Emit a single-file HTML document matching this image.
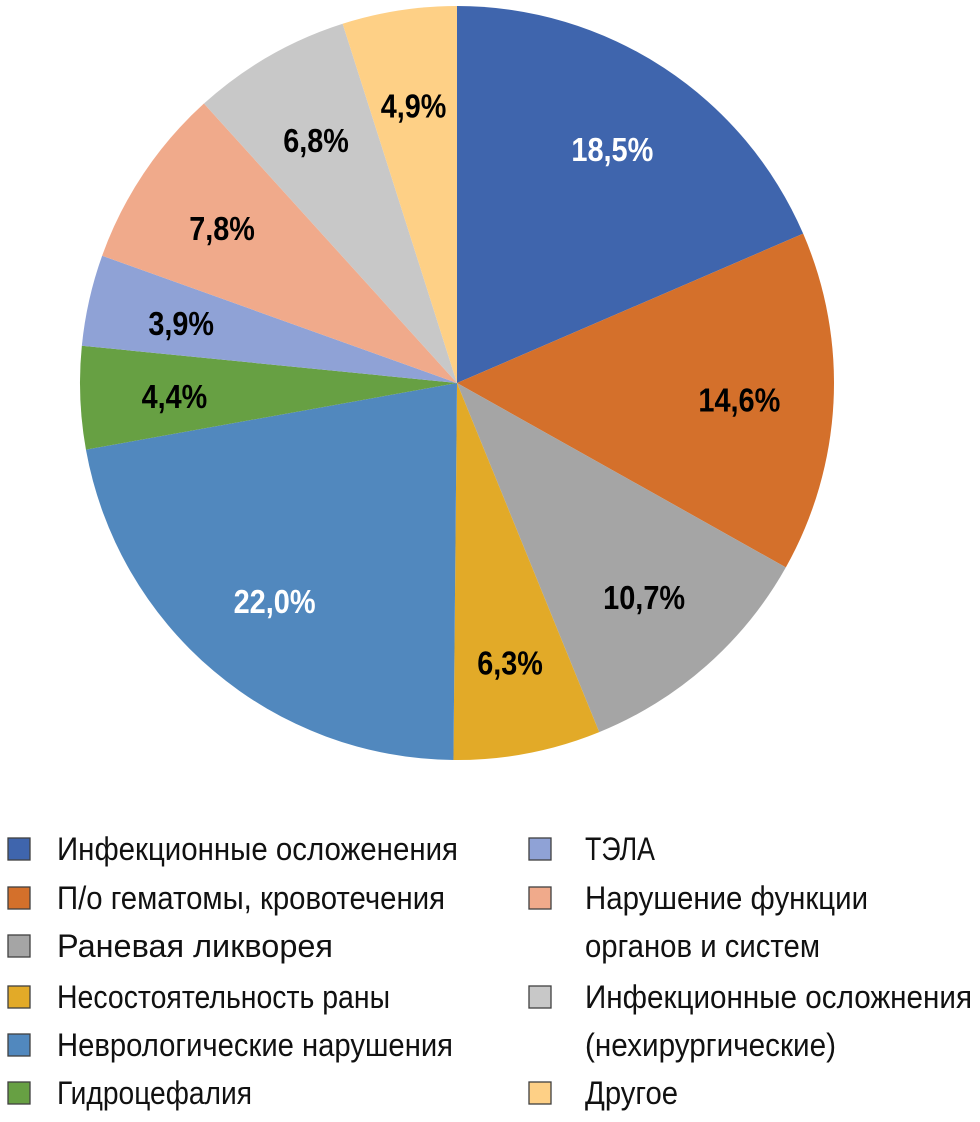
<!DOCTYPE html>
<html><head><meta charset="utf-8"><style>
html,body{margin:0;padding:0;background:#fff;}
svg{display:block;}
text{font-family:"Liberation Sans",sans-serif;}
</style></head><body>
<svg id="chart" width="980" height="1122" viewBox="0 0 980 1122" xmlns="http://www.w3.org/2000/svg">
<g id="slices"></g>
<g id="labels"></g>
<g id="legend"></g>
</svg>
<script>
const categories = ["Инфекционные осложенения","П/о гематомы, кровотечения","Раневая ликворея","Несостоятельность раны","Неврологические нарушения","Гидроцефалия","ТЭЛА","Нарушение функции органов и систем","Инфекционные осложнения (нехирургические)","Другое"];
const values = [18.5,14.6,10.7,6.3,22.0,4.4,3.9,7.8,6.8,4.9];
const valueLabels = ["18,5%","14,6%","10,7%","6,3%","22,0%","4,4%","3,9%","7,8%","6,8%","4,9%"];
const colors = ["#3f65ad","#d4702b","#a5a5a5","#e2aa28","#5188be","#67a043","#8fa2d6","#f0aa8b","#c8c8c8","#fed086"];
const labelColors = ["#fff","#000","#000","#000","#fff","#000","#000","#000","#000","#000"];
const cx=457, cy=383, R=377;
const NS="http://www.w3.org/2000/svg";
const total=values.reduce((a,b)=>a+b,0);
const sl=document.getElementById('slices'), lb=document.getElementById('labels'), lg=document.getElementById('legend');
function pt(a,r){return [cx+r*Math.sin(a), cy-r*Math.cos(a)];}
let acc=0;
values.forEach((v,i)=>{
  const a0=acc/total*2*Math.PI; acc+=v; const a1=acc/total*2*Math.PI;
  const p0=pt(a0,R), p1=pt(a1,R);
  const p=document.createElementNS(NS,'path');
  p.setAttribute('d',`M${cx},${cy}L${p0[0]},${p0[1]}A${R},${R} 0 ${a1-a0>Math.PI?1:0} 1 ${p1[0]},${p1[1]}Z`);
  p.setAttribute('fill',colors[i]);
  
  
  sl.appendChild(p);
  const m=(a0+a1)/2, lp=pt(m,R*0.75);
  const t=document.createElementNS(NS,'text');
  t.setAttribute('x',lp[0]); t.setAttribute('y',lp[1]+14);
  t.setAttribute('text-anchor','middle'); t.setAttribute('font-size','33'); t.setAttribute('font-weight','bold');
  t.setAttribute('fill',labelColors[i]);
  t.setAttribute('textLength',valueLabels[i].length*16.4); t.setAttribute('lengthAdjust','spacingAndGlyphs');
  t.textContent=valueLabels[i];
  
  
  lb.appendChild(t);
});
const rows=[860,909,957,1008,1056,1104];
const legendItems=[
 {col:0,row:0,lines:[["Инфекционные осложенения",401]]},
 {col:0,row:1,lines:[["П/о гематомы, кровотечения",388]]},
 {col:0,row:2,lines:[["Раневая ликворея",276]]},
 {col:0,row:3,lines:[["Несостоятельность раны",333]]},
 {col:0,row:4,lines:[["Неврологические нарушения",396]]},
 {col:0,row:5,lines:[["Гидроцефалия",195]]},
 {col:1,row:0,lines:[["ТЭЛА",70]]},
 {col:1,row:1,lines:[["Нарушение функции",283],["органов и систем",235]]},
 {col:1,row:3,lines:[["Инфекционные осложнения",387],["(нехирургические)",251]]},
 {col:1,row:5,lines:[["Другое",93]]}
];
legendItems.forEach((it,i)=>{
  const g=document.createElementNS(NS,'g');
  
  
  const sx=it.col?529:8, tx=it.col?585:57;
  const by=rows[it.row];
  const r=document.createElementNS(NS,'rect');
  r.setAttribute('x',sx); r.setAttribute('y',by-22); r.setAttribute('width',22); r.setAttribute('height',22);
  r.setAttribute('fill',colors[i]); r.setAttribute('stroke','#404040'); r.setAttribute('stroke-width','1.3');
  
  
  g.appendChild(r);
  it.lines.forEach((ln,j)=>{
    const t=document.createElementNS(NS,'text');
    t.setAttribute('x',tx); t.setAttribute('y',rows[it.row+j]);
    t.setAttribute('font-size','32'); t.setAttribute('fill','#111');
    t.setAttribute('textLength',ln[1]); t.setAttribute('lengthAdjust','spacingAndGlyphs');
    t.textContent=ln[0];
    
    
    g.appendChild(t);
  });
  lg.appendChild(g);
});
</script>
</body></html>
